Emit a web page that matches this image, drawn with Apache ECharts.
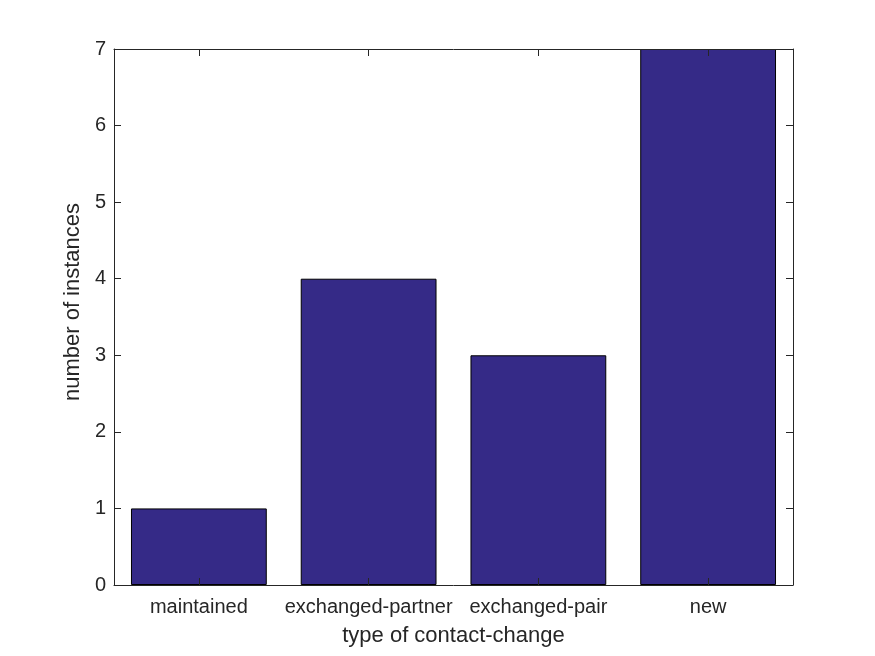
<!DOCTYPE html>
<html>
<head>
<meta charset="utf-8">
<script src="https://cdn.jsdelivr.net/npm/echarts@6/dist/echarts.min.js"></script>
<style>
  html, body { margin: 0; padding: 0; background: #fff; }
  #chart { width: 875px; height: 656px; }
</style>
</head>
<body>
<div id="chart"></div>
<script>
  // contact-change counts
  const categories = ['maintained', 'exchanged-partner', 'exchanged-pair', 'new'];
  const counts = [1, 4, 3, 7];
  const yTicks = { min: 0, max: 7, interval: 1 };

  const ink = '#262626';
  const font = 'Liberation Sans, Arial, Helvetica, sans-serif';

  let chart = echarts.init(document.getElementById('chart'));
  chart.setOption({
    animation: false,
    grid: { left: 114, right: 82, top: 49, bottom: 71 },
    xAxis: [
      {
        type: 'category',
        data: categories,
        position: 'bottom',
        z: 5,
        name: 'type of contact-change',
        nameLocation: 'middle',
        nameGap: 40,
        nameTextStyle: { color: ink, fontSize: 22, fontFamily: font },
        axisLine: { show: true, onZero: false, lineStyle: { color: ink, width: 1 } },
        axisTick: { show: true, inside: true, alignWithLabel: true, length: 7, lineStyle: { color: ink } },
        axisLabel: { color: ink, fontSize: 20, fontFamily: font, margin: 12, interval: 0 }
      },
      {
        type: 'category',
        data: categories,
        position: 'top',
        z: 5,
        axisLine: { show: true, onZero: false, lineStyle: { color: ink, width: 1 } },
        axisTick: { show: true, inside: true, alignWithLabel: true, length: 7, lineStyle: { color: ink } },
        axisLabel: { show: false }
      }
    ],
    yAxis: [
      {
        type: 'value',
        min: yTicks.min,
        max: yTicks.max,
        interval: yTicks.interval,
        position: 'left',
        z: 5,
        name: 'number of instances',
        nameLocation: 'middle',
        nameGap: 24,
        nameTextStyle: { color: ink, fontSize: 22, fontFamily: font, padding: [0, 0, 0, 30] },
        axisLine: { show: true, onZero: false, lineStyle: { color: ink, width: 1 } },
        axisTick: { show: true, inside: true, length: 7, lineStyle: { color: ink } },
        axisLabel: { color: ink, fontSize: 20, fontFamily: font, margin: 8 },
        splitLine: { show: false }
      },
      {
        type: 'value',
        min: yTicks.min,
        max: yTicks.max,
        interval: yTicks.interval,
        position: 'right',
        z: 5,
        axisLine: { show: true, onZero: false, lineStyle: { color: ink, width: 1 } },
        axisTick: { show: true, inside: true, length: 7, lineStyle: { color: ink } },
        axisLabel: { show: false },
        splitLine: { show: false }
      }
    ],
    series: [{
      type: 'bar',
      data: counts,
      xAxisIndex: 0,
      yAxisIndex: 0,
      barCategoryGap: '20%',
      itemStyle: { color: '#352a87', borderColor: '#000', borderWidth: 1 }
    }]
  });
</script>
</body>
</html>
